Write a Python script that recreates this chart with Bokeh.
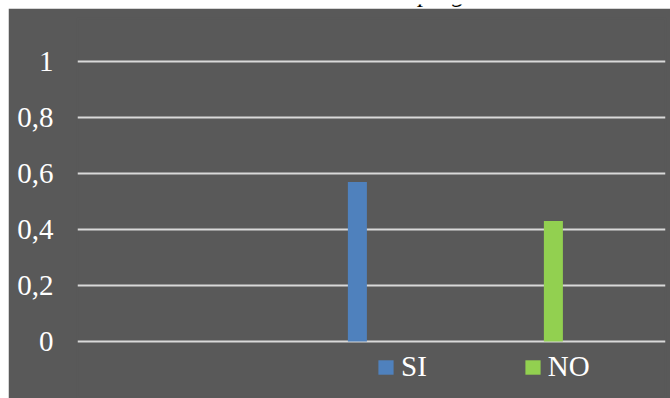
from bokeh.plotting import figure
from bokeh.models import (ColumnDataSource, FixedTicker, Range1d, FactorRange,
                          Label, Spacer)
from bokeh.layouts import column, row
from bokeh.transform import dodge
from bokeh.embed import file_html
from bokeh.resources import INLINE

# ---- data ----
slots = ["", "SI", "NO"]          # category slots on the x axis (first one empty)
categories = ["SI", "NO"]
values = [0.57, 0.43]
colors = ["#4f81bd", "#92d050"]
y_ticks = [0, 0.2, 0.4, 0.6, 0.8, 1]
y_tick_labels = ["0", "0,2", "0,4", "0,6", "0,8", "1"]
title_text = "pregunta"

BG = "#595959"
SERIF = "Liberation Serif"

# ---- cut-off title strip at the very top ----
strip_h = 8
top = figure(width=670, height=strip_h, x_range=(0, 1), y_range=(0, 1), title=None,
             toolbar_location=None, output_backend="svg",
             x_axis_location=None, y_axis_location=None,
             min_border=0, outline_line_color=None,
             background_fill_color="white", border_fill_color="white")
top.grid.visible = False
top.add_layout(Label(x=418, y=19, x_units="screen", y_units="screen",
                     text=title_text, text_font=SERIF, text_font_style="italic",
                     text_font_size="26px", text_color="black",
                     text_baseline="alphabetic"))

# ---- main chart ----
px_per_unit = 280.0
zero_px = 341 - 8      # pixel row of 0 inside the figure
fig_h = 390
top_border = 10
p = figure(width=662, height=fig_h, x_range=FactorRange(factors=slots, range_padding=0),
           y_range=Range1d((zero_px - fig_h) / px_per_unit, (zero_px - top_border) / px_per_unit),
           title=None, toolbar_location=None, output_backend="svg", x_axis_location=None,
           background_fill_color=BG, border_fill_color=BG,
           outline_line_color=BG, outline_line_width=2,
           min_border_left=69, min_border_right=5, min_border_top=top_border,
           min_border_bottom=0)

src = ColumnDataSource(dict(cat=categories, val=values, color=colors))
p.vbar(x=dodge("cat", -0.072, range=p.x_range), top="val", width=0.097,
       fill_color="color", line_color=None, source=src, legend_field="cat")

p.xgrid.visible = False
p.ygrid.ticker = FixedTicker(ticks=y_ticks)
p.ygrid.grid_line_color = "#d9d9d9"
p.ygrid.grid_line_width = 2

ax = p.yaxis[0]
ax.ticker = FixedTicker(ticks=y_ticks)
ax.major_label_overrides = {t: l for t, l in zip(y_ticks, y_tick_labels)}
ax.axis_line_color = None
ax.major_tick_line_color = None
ax.minor_tick_line_color = None
ax.major_label_standoff = 18
ax.major_label_text_font = SERIF
ax.major_label_text_font_size = "29px"
ax.major_label_text_color = "white"

lg = p.legend[0]
lg.orientation = "horizontal"
lg.location = (299, 15)
lg.background_fill_alpha = 0
lg.border_line_color = None
lg.label_text_color = "white"
lg.label_text_font = SERIF
lg.label_text_font_size = "29px"
lg.glyph_width = 19
lg.glyph_height = 18
lg.label_standoff = 6
lg.spacing = 96
lg.padding = 0
lg.margin = 0

layout = column(top, row(Spacer(width=8, height=fig_h), p))

open("out.html", "w").write(file_html(layout, INLINE))
